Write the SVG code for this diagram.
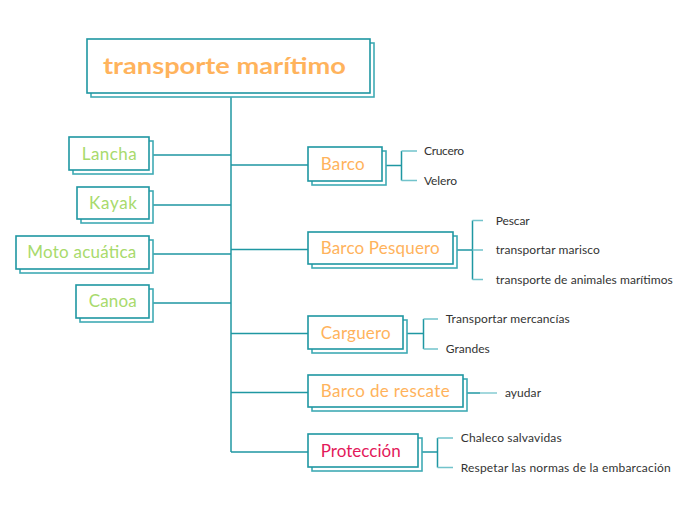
<svg xmlns="http://www.w3.org/2000/svg" width="697" height="520" viewBox="0 0 697 520">
<style>
.front{fill:#fff;stroke:#1f97a2;stroke-width:1.6}
.shadow{fill:#fff;stroke:#3fabb5;stroke-width:1.6}
.ln{fill:none;stroke:#1f97a2;stroke-width:1.5}
.stub{fill:none;stroke:#72c3cb;stroke-width:1.3}
.lab{font-family:Lato,"Noto Sans",sans-serif;font-size:17px}
.or{fill:#ffb35c}
.gr{fill:#a8da6c}
.rd{fill:#e3195a}
.sm{font-family:Lato,"Noto Sans",sans-serif;font-size:12px;fill:#333}
</style>
<rect width="697" height="520" fill="#fff"/>
<g id="connectors">
<path class="ln" d="M231 97V452"/>
<path class="ln" d="M153 155H231M153 205H231M153 254H231M153 303H231"/>
<path class="ln" d="M231 165H308M231 249.5H308M231 333.5H308M231 392.5H308M231 452H308"/>
<path class="ln" d="M386 165.5H401.5M401.5 151V180.5"/>
<path class="stub" d="M401.5 151H417M401.5 180.5H417"/>
<path class="ln" d="M457 250H472.5M472.5 220.5V279.5"/>
<path class="stub" d="M472.5 220.5H483M472.5 250H483M472.5 279.5H483"/>
<path class="ln" d="M407 333.5H423.5M423.5 319V349"/>
<path class="stub" d="M423.5 319H438M423.5 349H438"/>
<path class="ln" d="M467 393H480"/>
<path class="stub" d="M480 393H497"/>
<path class="ln" d="M422 452H437.5M437.5 438V467.5"/>
<path class="stub" d="M437.5 438H453M437.5 467.5H453"/>
</g>
<g id="root">
<rect class="shadow" x="91" y="43" width="283" height="54"/>
<rect class="front" x="87" y="39" width="283" height="54"/>
<text x="103" y="74" font-family="Lato,'Noto Sans',sans-serif" font-size="22" font-weight="bold" fill="#ffb35c" textLength="243" lengthAdjust="spacingAndGlyphs">transporte marítimo</text>
</g>
<g id="lancha">
<rect class="shadow" x="73" y="141" width="80" height="33"/>
<rect class="front" x="69" y="137" width="80" height="33"/>
<text class="lab gr" x="81.7" y="159.5" textLength="55">Lancha</text>
</g>
<g id="kayak">
<rect class="shadow" x="81" y="191" width="72" height="32"/>
<rect class="front" x="77" y="187" width="72" height="32"/>
<text class="lab gr" x="89" y="209" textLength="48">Kayak</text>
</g>
<g id="moto">
<rect class="shadow" x="20" y="240" width="133" height="33"/>
<rect class="front" x="16" y="236" width="133" height="33"/>
<text class="lab gr" x="27.3" y="258" textLength="109">Moto acuática</text>
</g>
<g id="canoa">
<rect class="shadow" x="80" y="289" width="73" height="33"/>
<rect class="front" x="76" y="285" width="73" height="33"/>
<text class="lab gr" x="88.7" y="307" textLength="48">Canoa</text>
</g>
<g id="barco">
<rect class="shadow" x="312" y="151" width="74" height="34"/>
<rect class="front" x="308" y="147" width="74" height="34"/>
<text class="lab or" x="320.7" y="169.5" textLength="44">Barco</text>
</g>
<g id="crucero"><text class="sm" x="424" y="155" textLength="40">Crucero</text></g>
<g id="velero"><text class="sm" x="424" y="184.5" textLength="33">Velero</text></g>
<g id="pesquero">
<rect class="shadow" x="312" y="236" width="145" height="32"/>
<rect class="front" x="308" y="232" width="145" height="32"/>
<text class="lab or" x="320.7" y="253.5" textLength="119">Barco Pesquero</text>
</g>
<g id="pescar"><text class="sm" x="495.7" y="224.5" textLength="34">Pescar</text></g>
<g id="marisco"><text class="sm" x="495.7" y="254" textLength="104">transportar marisco</text></g>
<g id="animales"><text class="sm" x="495.7" y="283.5" textLength="177">transporte de animales marítimos</text></g>
<g id="carguero">
<rect class="shadow" x="312" y="320" width="95" height="33"/>
<rect class="front" x="308" y="316" width="95" height="33"/>
<text class="lab or" x="320.7" y="338.5" textLength="70">Carguero</text>
</g>
<g id="mercancias"><text class="sm" x="445.7" y="323" textLength="124">Transportar mercancías</text></g>
<g id="grandes"><text class="sm" x="445.7" y="352.5" textLength="44">Grandes</text></g>
<g id="rescate">
<rect class="shadow" x="312" y="379" width="155" height="32"/>
<rect class="front" x="308" y="375" width="155" height="32"/>
<text class="lab or" x="320.7" y="397" textLength="129">Barco de rescate</text>
</g>
<g id="ayudar"><text class="sm" x="505" y="397" textLength="36">ayudar</text></g>
<g id="proteccion">
<rect class="shadow" x="312" y="438" width="110" height="33"/>
<rect class="front" x="308" y="434" width="110" height="33"/>
<text class="lab rd" x="320.7" y="456.5" textLength="80">Protección</text>
</g>
<g id="chaleco"><text class="sm" x="460.7" y="442" textLength="101">Chaleco salvavidas</text></g>
<g id="respetar"><text class="sm" x="460.7" y="471.5" textLength="210">Respetar las normas de la embarcación</text></g>
</svg>
